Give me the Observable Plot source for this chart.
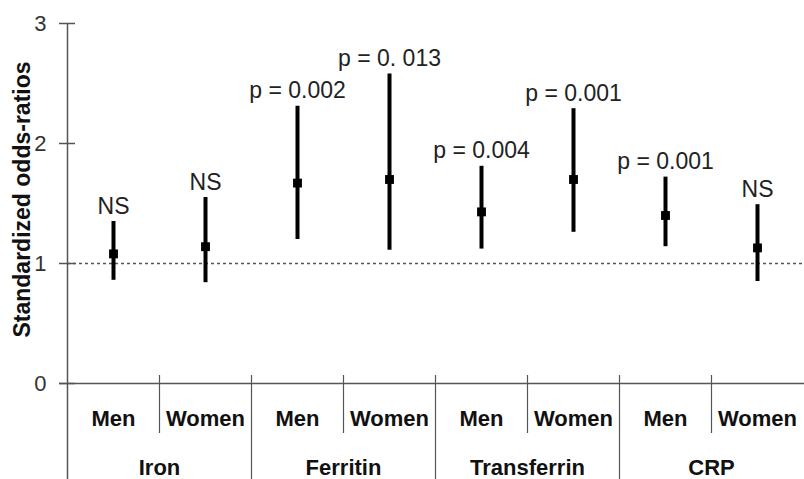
<!DOCTYPE html>
<html>
<head>
<meta charset="utf-8">
<script src="https://cdn.jsdelivr.net/npm/d3@7"></script>
<script src="https://cdn.jsdelivr.net/npm/@observablehq/plot@0.6"></script>
<style>
  html, body { margin: 0; padding: 0; background: #fff; }
</style>
</head>
<body>
<div id="chart"></div>
<script>
const groups = ["Iron", "Ferritin", "Transferrin", "CRP"];
const sexes = ["Men", "Women"];
const estimate = [1.08, 1.14, 1.67, 1.70, 1.43, 1.70, 1.40, 1.13];
const lower    = [0.86, 0.84, 1.20, 1.11, 1.12, 1.26, 1.14, 0.85];
const upper    = [1.35, 1.55, 2.31, 2.58, 1.81, 2.29, 1.72, 1.49];
const pLabels  = ["NS", "NS", "p = 0.002", "p = 0. 013", "p = 0.004", "p = 0.001", "p = 0.001", "NS"];
const yTicks = [0, 1, 2, 3];
const yTitle = "Standardized odds-ratios";

// one row per (group, sex), in order; x is the slot index
const rows = [];
groups.forEach((g, gi) => sexes.forEach((s, si) => {
  const i = gi * sexes.length + si;
  rows.push({group: g, sex: s, slot: i, est: estimate[i], lo: lower[i], hi: upper[i], p: pLabels[i]});
}));
const groupRows = groups.map((g, gi) => ({group: g, start: gi * sexes.length}));
const innerSeps = groupRows.map(d => d.start + 1);
const groupSeps = groupRows.slice(1).map(d => d.start);

const font = "'Liberation Sans', Arial, Helvetica, sans-serif";
const axisColor = "#555";

const chart = Plot.plot({
  width: 804,
  height: 479,
  marginLeft: 67,
  marginRight: 1,
  marginTop: 23,
  marginBottom: 96,
  style: {fontFamily: font, background: "#fff", overflow: "visible"},
  x: {type: "linear", domain: [0, rows.length], axis: null},
  y: {domain: [0, 3], axis: null},
  marks: [
    // reference line at 1
    Plot.ruleY([1], {stroke: "#555", strokeWidth: 1.3, strokeDasharray: "3,3"}),
    // x baseline
    Plot.ruleY([0], {stroke: axisColor, strokeWidth: 1.5, insetLeft: -8, insetRight: -1}),
    // y axis line extending down through the category table
    Plot.ruleX([0], {y1: 3, y2: 0, insetBottom: -97, stroke: axisColor, strokeWidth: 1.5}),
    // y ticks crossing the axis
    Plot.ruleY(yTicks, {y: d => d, x1: 0, x2: 0, insetLeft: -8, insetRight: -8, stroke: axisColor, strokeWidth: 1.5}),
    // y tick labels
    Plot.text(yTicks, {y: d => d, x: 0, text: d => String(d), dx: -21, textAnchor: "end", fontSize: 22, fill: "#333"}),
    // y title
    Plot.text([yTitle], {frameAnchor: "left", rotate: -90, dx: -45, dy: -4, fontSize: 23, fontWeight: "bold", fill: "#111", textAnchor: "middle"}),
    // separators in the category table
    Plot.ruleX(innerSeps, {x: d => d, y1: 0, y2: 0, insetTop: -8, insetBottom: -50, stroke: axisColor, strokeWidth: 1.2}),
    Plot.ruleX(groupSeps, {x: d => d, y1: 0, y2: 0, insetTop: -8, insetBottom: -97, stroke: axisColor, strokeWidth: 1.2}),
    // confidence intervals
    Plot.ruleX(rows, {x: d => d.slot + 0.5, y1: "lo", y2: "hi", stroke: "#000", strokeWidth: 4}),
    // point estimates
    Plot.dot(rows, {x: d => d.slot + 0.5, y: "est", symbol: "square", r: 5, fill: "#000", stroke: "none"}),
    // p labels
    Plot.text(rows, {x: d => d.slot + 0.5, y: "hi", text: "p", dy: -8, lineAnchor: "bottom", fontSize: 23, fill: "#222"}),
    // sex labels
    Plot.text(rows, {x: d => d.slot + 0.5, y: 0, text: "sex", dy: 35, fontSize: 22, fontWeight: "bold", fill: "#111"}),
    // group labels
    Plot.text(groupRows, {x: d => d.start + sexes.length / 2, y: 0, text: "group", dy: 84, fontSize: 22, fontWeight: "bold", fill: "#111"})
  ]
});
document.getElementById("chart").appendChild(chart);
</script>
</body>
</html>
